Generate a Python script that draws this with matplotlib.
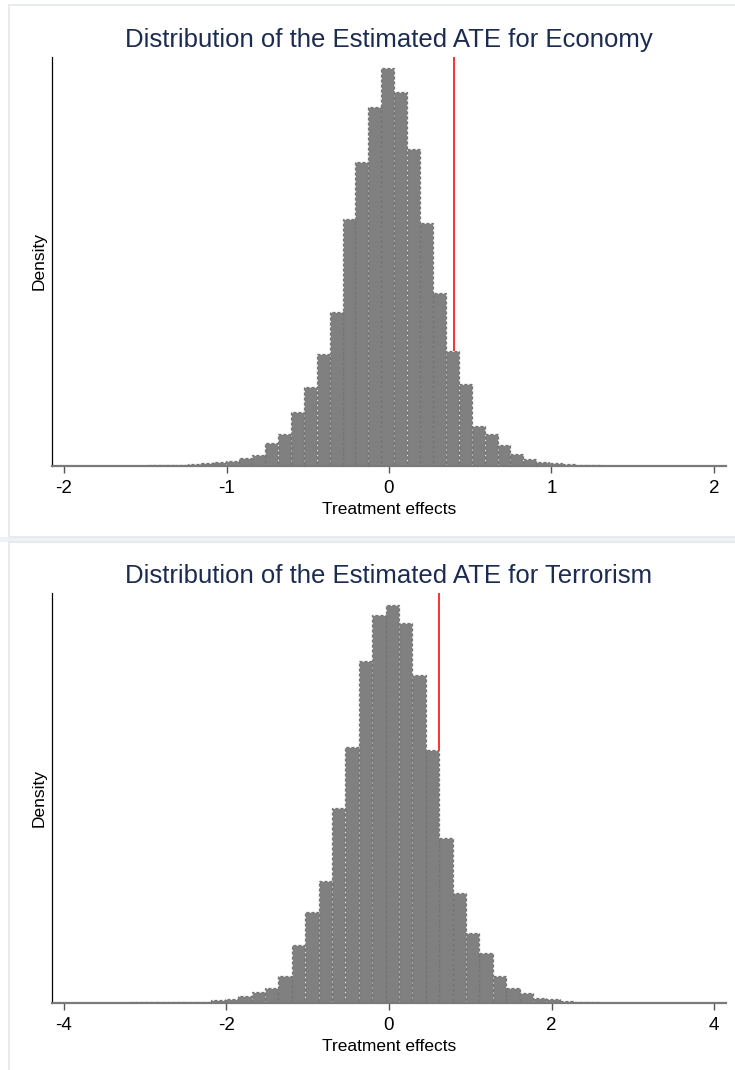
import numpy as np
import matplotlib.pyplot as plt
from matplotlib.patches import Rectangle

plt.rcParams['font.family'] = ['Liberation Sans', 'DejaVu Sans']

# ---- DATA ----
# densities of 40 equal-width bins, left to right
econ_start = -1.876
econ_width = 0.0795
econ_density = [0.001, 0.001, 0.001, 0.001, 0.0016, 0.002, 0.003, 0.004,
                0.007, 0.011, 0.014, 0.020, 0.031, 0.043, 0.091, 0.124,
                0.209, 0.307, 0.436, 0.600, 0.965, 1.187, 1.402, 1.554,
                1.460, 1.238, 0.949, 0.674, 0.450, 0.320, 0.155, 0.126,
                0.080, 0.047, 0.026, 0.016, 0.011, 0.006, 0.004, 0.003]
econ_ate = 0.40
econ_ticks = [-2, -1, 0, 1, 2]

terror_start = -3.668
terror_width = 0.1648
terror_density = [0.0009, 0.0007, 0.0009, 0.0011, 0.0013, 0.0018, 0.0018, 0.0022,
                  0.0024, 0.0060, 0.0067, 0.0122, 0.0194, 0.0278, 0.0495, 0.1057,
                  0.1645, 0.2207, 0.3532, 0.4638, 0.6209, 0.7043, 0.7225, 0.6887,
                  0.5955, 0.4595, 0.2993, 0.1990, 0.1264, 0.0902, 0.0495, 0.0267,
                  0.0181, 0.0082, 0.0073, 0.0042, 0.0022, 0.0015, 0.0009, 0.0009]
terror_ate = 0.617
terror_ticks = [-4, -2, 0, 2, 4]

TITLE_COLOR = '#1c2b50'
BAR_COLOR = '#808080'

W, H = 735, 1070
fig = plt.figure(figsize=(W / 100, H / 100), dpi=100)
fig.patch.set_facecolor('white')


def px_box(left, top, right, bottom):
    # pixel box -> figure fraction rect
    return [left / W, 1 - bottom / H, (right - left) / W, (bottom - top) / H]


# panel frames
fig.patches.append(Rectangle((0, 1 - 542 / H), 1, 5 / H, transform=fig.transFigure,
                             facecolor='#eef2f6', edgecolor='none', zorder=0))
for top, bot in [(5, 537), (542, 1075)]:
    x0, y0, w, h = px_box(9, top, 740, bot)
    fig.patches.append(Rectangle((x0, y0), w, h, transform=fig.transFigure,
                                 facecolor='none', edgecolor='#e3e8ee', lw=1.2, zorder=0))


def draw_panel(box, start, width, dens, ate, ticks, half_range, ytop, title, title_y):
    ax = fig.add_axes(box)
    ax.set_facecolor('none')
    n = len(dens)
    lefts = start + width * np.arange(n)

    # reference line sits behind the bars
    ax.axvline(ate, color='#ff2020', lw=1.3, zorder=1)
    ax.bar(lefts, dens, width=width, align='edge', color=BAR_COLOR,
           edgecolor='#f2f2f2', lw=0.7, zorder=2)
    ax.bar(lefts, dens, width=width, align='edge', fill=False,
           edgecolor='#767676', lw=0.9, linestyle=(0, (2.5, 1.5)), zorder=3)

    ax.set_xlim(-half_range, half_range)
    ax.set_ylim(0, ytop)
    ax.set_xticks(ticks)
    ax.set_xticklabels([str(t) for t in ticks])
    ax.set_yticks([])
    ax.tick_params(axis='x', length=5, width=1.0, color='#555555', pad=5,
                   labelsize=13.5)
    for side in ['top', 'right']:
        ax.spines[side].set_visible(False)
    ax.spines['left'].set_color('black')
    ax.spines['left'].set_linewidth(0.9)
    ax.spines['bottom'].set_color('#7a7a7a')
    ax.spines['bottom'].set_linewidth(1.6)
    ax.set_xlabel('Treatment effects', fontsize=12.5, labelpad=4)
    ax.set_ylabel('Density', fontsize=12.5, labelpad=4)

    fig.text(389 / W, 1 - title_y / H, title, ha='center', va='center',
             fontsize=18.5, color=TITLE_COLOR)
    return ax


draw_panel(px_box(52, 57, 726, 466), econ_start, econ_width, econ_density,
           econ_ate, econ_ticks, 2.074, 1.596,
           'Distribution of the Estimated ATE for Economy', 40)
draw_panel(px_box(52, 593, 726, 1003), terror_start, terror_width, terror_density,
           terror_ate, terror_ticks, 4.145, 0.744,
           'Distribution of the Estimated ATE for Terrorism', 576)

fig.savefig('out.png', dpi=100)
